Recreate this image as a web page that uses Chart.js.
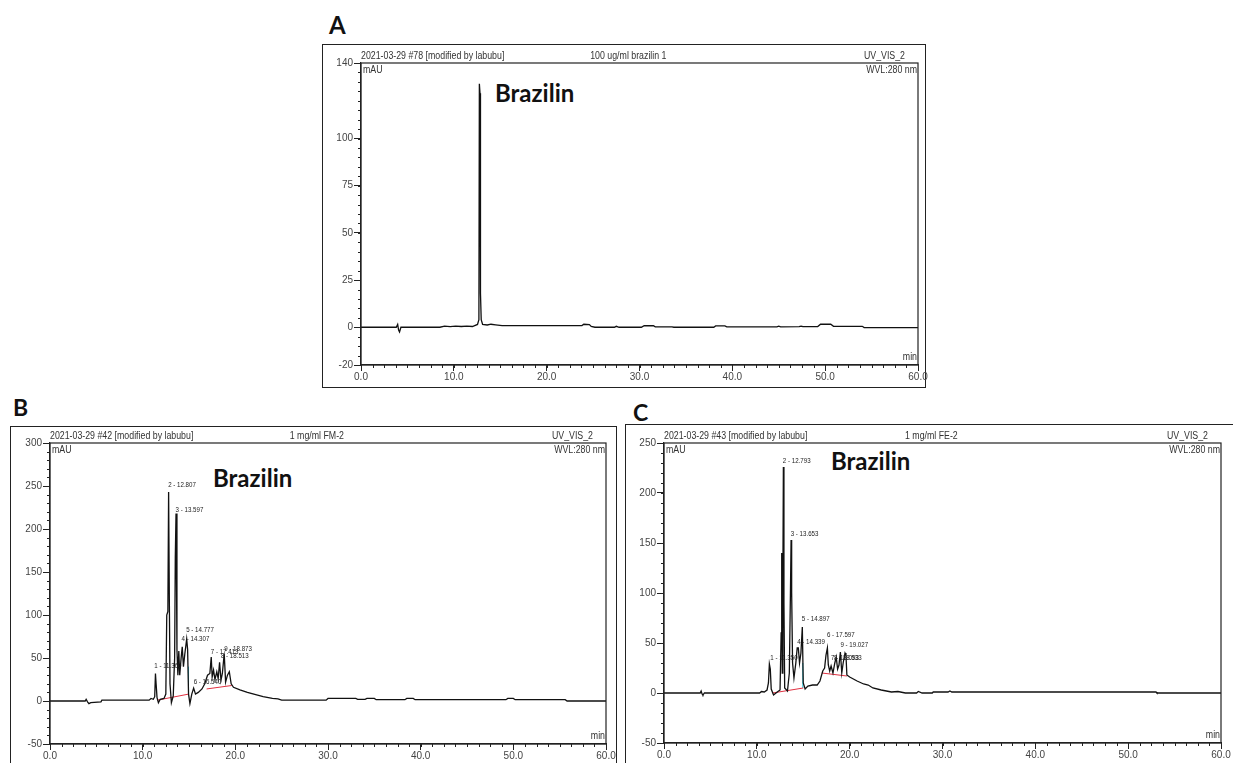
<!DOCTYPE html>
<html lang="en">
<head>
    <meta charset="UTF-8" />
    <title>HPLC chromatograms - brazilin</title>
    <style>
        body { margin: 0; width: 1233px; height: 763px; overflow: hidden; background: #fff; position: relative; }
        .box { position: absolute; border: 1.5px solid #222; box-sizing: border-box; }
        .tag { position: absolute; font-family: Lato, "Open Sans", sans-serif; font-weight: 700; color: #111; line-height: 1; white-space: nowrap; }
        canvas { position: absolute; }
    </style>
</head>

<body>
    <!-- panel frames -->
    <div class="box" style="left:322px; top:44px; width:604px; height:344px;"></div>
    <div class="box" style="left:10px; top:426px; width:607px; height:360px;"></div>
    <div class="box" style="left:625px; top:424px; width:630px; height:360px;"></div>

    <!-- panel letters and annotations -->
    <div class="tag" style="left:329px; top:13px; font-size:24px;">A</div>
    <div class="tag" style="left:13px; top:396px; font-size:23px;">B</div>
    <div class="tag" style="left:633px; top:401px; font-size:23px;">C</div>
    <div class="tag" style="left:495px; top:81px; font-size:24px;">Brazilin</div>
    <div class="tag" style="left:213px; top:466px; font-size:24px;">Brazilin</div>
    <div class="tag" style="left:831px; top:449px; font-size:24px;">Brazilin</div>

    <canvas id="chartA" width="620" height="343" style="left:323px; top:45px;"></canvas>
    <canvas id="chartB" width="620" height="336" style="left:11px; top:427px;"></canvas>
    <canvas id="chartC" width="607" height="337" style="left:626px; top:426px;"></canvas>

    <script src="https://cdn.jsdelivr.net/npm/chart.js@4.4.1/dist/chart.umd.min.js"></script>
    <script>
        // ---- data (retention time in min, signal in mAU) ----
        const timeA = [0, 3.8, 3.95, 4.05, 4.15, 4.3, 8.5, 9.0, 9.6, 10.2,
            10.8, 11.4, 12.0, 12.55, 12.7, 12.75, 12.82, 12.87, 12.95, 13.1,
            13.6, 14.0, 14.5, 15.2, 23.8, 24.0, 24.6, 24.8, 25.2, 27.3,
            27.5, 27.8, 30.2, 30.5, 31.5, 31.7, 33.5, 33.7, 38.0, 38.2,
            39.2, 39.4, 44.8, 45.0, 45.2, 47.2, 47.4, 47.6, 49.2, 49.5,
            50.6, 50.9, 54.0, 54.2, 60];
        const mauA = [0, 0, 1.5, -1.5, -2.5, 0, 0, 0.6, 0.3, 0.6,
            0.4, 0.6, 0.4, 1.5, 4, 129, 124, 18, 4, 1.5,
            1.2, 1.6, 1.3, 0.9, 0.9, 1.6, 1.4, 0.4, 0, 0,
            0.5, 0, 0, 0.8, 0.8, 0.2, 0.2, 0, 0, 0.7,
            0.7, 0.2, 0.2, 0.6, 0.2, 0.3, 0.6, 0.3, 0.4, 1.6,
            1.6, 0.5, 0.5, -0.2, -0.2];

        const timeB = [0, 3.8, 3.9, 4.05, 4.2, 4.4, 5.5, 5.6, 10.7, 10.9,
            11.15, 11.3, 11.38, 11.45, 11.55, 11.7, 11.9, 12.3, 12.5, 12.6,
            12.72, 12.8, 12.88, 12.95, 13.1, 13.3, 13.45, 13.52, 13.6, 13.7,
            13.8, 13.9, 14.0, 14.15, 14.27, 14.4, 14.55, 14.75, 14.85, 14.95,
            15.1, 15.3, 15.5, 15.7, 16.0, 16.4, 16.7, 17.0, 17.25, 17.4,
            17.5, 17.65, 17.8, 18.0, 18.15, 18.3, 18.45, 18.6, 18.8, 18.95,
            19.15, 19.35, 19.55, 19.8, 20.5, 21.3, 22.0, 23.0, 24.0, 24.6,
            25.0, 29.8, 30.0, 33.0, 33.2, 34.0, 34.2, 35.0, 35.2, 38.3,
            38.5, 39.2, 39.4, 49.2, 49.4, 50.0, 50.2, 55.6, 55.8, 60];
        const mauB = [0, 0, 2, -1, -3, -2, -1, 1, 1, 3,
            2, 5, 32, 20, 4, -2, 2, 3, 8, 100,
            104, 243, 115, 20, -2, 6, 50, 166, 218, 60,
            30, 58, 30, 50, 63, 40, 55, 72, 60, 8,
            -3, 8, 15, 8, 10, 14, 20, 30, 32, 51,
            28, 36, 25, 34, 26, 45, 24, 32, 55, 22,
            30, 34, 20, 16, 13, 10, 8, 5, 3, 2.5,
            1, 1, 3, 3, 2, 2, 3, 3, 1.5, 1.5,
            3, 3, 1.5, 1.5, 3, 3, 1.5, 1.5, 0, 0];

        const timeC = [0, 3.9, 4.0, 4.1, 4.2, 4.35, 10.3, 10.5, 10.8, 11.1,
            11.25, 11.35, 11.45, 11.55, 11.8, 12.2, 12.5, 12.62, 12.68, 12.74,
            12.8, 12.86, 12.92, 13.0, 13.3, 13.5, 13.62, 13.69, 13.75, 13.85,
            14.0, 14.2, 14.35, 14.47, 14.6, 14.75, 14.9, 15.0, 15.2, 15.5,
            16.0, 16.5, 16.8, 17.1, 17.3, 17.45, 17.6, 17.7, 17.85, 18.0,
            18.2, 18.4, 18.55, 18.7, 18.85, 19.0, 19.15, 19.3, 19.5, 19.6,
            19.7, 20.0, 20.8, 21.5, 22.0, 22.5, 23.4, 24.5, 25.2, 26.0,
            27.2, 27.4, 27.8, 28.9, 29.0, 30.6, 30.8, 31.0, 53.0, 53.1, 60];
        const mauC = [0, 0, 2, -1, -2, 0, 0, 1.5, 1, 3,
            10, 29, 24, 4, -2, 1, 3, 60, 140, 20,
            100, 226, 90, 5, 2, 20, 100, 153, 101, 30,
            15, 30, 45, 45, 30, 40, 66, 10, 4, 7,
            8, 8, 12, 22, 25, 38, 45, 28, 22, 27,
            20, 30, 36, 24, 28, 41, 20, 30, 40, 38,
            18, 16, 12, 9, 8, 5, 3, 1, 1.5, 0,
            0, 1.5, 0, 0, 1, 1, 2, 1, 1, 0, 0];

        // integration baselines [t1, y1, t2, y2]
        const baseB = [[11.6, 1, 14.95, 8], [16.9, 14, 19.6, 18]];
        const baseC = [[11.7, 0, 15.0, 5], [17.0, 20, 19.7, 17]];
        const fillB = [14.95, 8, 14.95, 40];
        const fillC = [14.95, 5, 14.95, 30];

        // peak labels [text, t, mAU]
        const peaksB = [['1 - 11.360', 11.25, 38], ['2 - 12.807', 12.75, 249], ['3 - 13.597', 13.55, 220],
            ['4 - 14.307', 14.2, 70], ['5 - 14.777', 14.7, 80], ['6 - 16.540', 15.5, 20],
            ['7 - 17.413', 17.35, 55], ['8 - 18.513', 18.45, 50], ['9 - 18.873', 18.8, 58]];
        const peaksC = [['1 - 11.350', 11.45, 33], ['2 - 12.793', 12.8, 230], ['3 - 13.653', 13.65, 157],
            ['4 - 14.339', 14.35, 49], ['5 - 14.897', 14.85, 72], ['6 - 17.597', 17.55, 56],
            ['7 - 18.093', 18.0, 33], ['8 - 18.533', 18.3, 33], ['9 - 19.027', 19.0, 46]];

        // labelled ticks and minor tick spacing
        const xLabels = [0, 10, 20, 30, 40, 50, 60];
        const xMinor = 1.25;
        const yLabelsA = [-20, 0, 25, 50, 75, 100, 140];
        const yLabelsB = [-50, 0, 50, 100, 150, 200, 250, 300];
        const yLabelsC = [-50, 0, 50, 100, 150, 200, 250];

        const FONT = '"Liberation Sans", Arial, sans-serif';

        function pairs(t, v) {
            return t.map((x, i) => ({ x: x, y: v[i] }));
        }

        // frame, minor ticks, header texts and peak labels
        const panelText = {
            id: 'panelText',
            afterDraw(chart, args, opts) {
                const { ctx, chartArea: a, scales } = chart;
                const squeeze = (txt, x, y) => ctx.fillText(txt, x, y, ctx.measureText(txt).width * 0.88);
                ctx.save();
                ctx.strokeStyle = '#222';
                ctx.lineWidth = 1.2;
                ctx.strokeRect(a.left, a.top, a.right - a.left, a.bottom - a.top);

                // minor ticks
                ctx.lineWidth = 1;
                ctx.beginPath();
                for (let v = 0; v <= 60; v += xMinor) {
                    const px = Math.round(scales.x.getPixelForValue(v)) + 0.5;
                    ctx.moveTo(px, a.bottom);
                    ctx.lineTo(px, a.bottom + 3);
                }
                for (let v = scales.y.min; v <= scales.y.max; v += opts.yMinor) {
                    const py = Math.round(scales.y.getPixelForValue(v)) + 0.5;
                    ctx.moveTo(a.left - 3, py);
                    ctx.lineTo(a.left, py);
                }
                ctx.stroke();

                ctx.fillStyle = '#333';
                ctx.font = '10px ' + FONT;
                ctx.textAlign = 'left';
                squeeze(opts.run, a.left, a.top - 4);
                squeeze('mAU', a.left + 2, a.top + 10);
                ctx.textAlign = 'center';
                squeeze(opts.sample, a.left + (a.right - a.left) * 0.48, a.top - 4);
                ctx.textAlign = 'right';
                squeeze('UV_VIS_2', a.right - 13, a.top - 4);
                squeeze('WVL:280 nm', a.right - 1, a.top + 10);
                squeeze('min', a.right - 1, a.bottom - 5);

                ctx.fillStyle = '#222';
                ctx.font = '7px ' + FONT;
                ctx.textAlign = 'left';
                (opts.peaks || []).forEach(p => {
                    squeeze(p[0], scales.x.getPixelForValue(p[1]), scales.y.getPixelForValue(p[2]));
                });
                ctx.restore();
            }
        };

        function segment(s, color) {
            return {
                data: [{ x: s[0], y: s[1] }, { x: s[2], y: s[3] }],
                showLine: true, borderColor: color, borderWidth: 1, pointRadius: 0
            };
        }

        function makeChart(id, times, values, y, info, extras, pad, yW, xH) {
            const ctx = document.getElementById(id).getContext('2d');
            return new Chart(ctx, {
                type: 'scatter',
                data: {
                    datasets: [{
                        data: pairs(times, values),
                        showLine: true,
                        borderColor: '#111',
                        borderWidth: 1.3,
                        pointRadius: 0,
                        tension: 0
                    }].concat(extras)
                },
                options: {
                    responsive: false,
                    animation: false,
                    layout: { padding: pad },
                    plugins: {
                        legend: { display: false },
                        tooltip: { enabled: false },
                        panelText: info
                    },
                    scales: {
                        x: {
                            type: 'linear', min: 0, max: 60,
                            afterBuildTicks: s => { s.ticks = xLabels.map(v => ({ value: v })); },
                            afterFit: s => { s.height = xH; },
                            ticks: {
                                autoSkip: false, maxRotation: 0, padding: 0, color: '#444',
                                font: { size: 10, family: FONT },
                                callback: v => v.toFixed(1)
                            },
                            grid: { drawOnChartArea: false, tickLength: 6, color: '#222' },
                            border: { color: '#222', width: 1.2 }
                        },
                        y: {
                            type: 'linear', min: y.min, max: y.max,
                            afterBuildTicks: s => { s.ticks = y.labels.map(v => ({ value: v })); },
                            afterFit: s => { s.width = yW; },
                            ticks: {
                                autoSkip: false, padding: 1, color: '#444',
                                font: { size: 10, family: FONT },
                                callback: v => String(v)
                            },
                            grid: { drawOnChartArea: false, tickLength: 7, color: '#222' },
                            border: { color: '#222', width: 1.2 }
                        }
                    }
                },
                plugins: [panelText]
            });
        }

        makeChart('chartA', timeA, mauA,
            { min: -20, max: 140, labels: yLabelsA },
            { run: '2021-03-29 #78 [modified by labubu]', sample: '100 ug/ml brazilin 1', peaks: [], yMinor: 5 },
            [],
            { top: 18, right: 25, bottom: 2, left: 0 }, 38, 21);

        makeChart('chartB', timeB, mauB,
            { min: -50, max: 300, labels: yLabelsB },
            { run: '2021-03-29 #42 [modified by labubu]', sample: '1 mg/ml FM-2', peaks: peaksB, yMinor: 10 },
            baseB.map(s => segment(s, '#e03040')).concat([segment(fillB, '#30c8dc')]),
            { top: 16, right: 25, bottom: 0, left: 0 }, 39, 19);

        makeChart('chartC', timeC, mauC,
            { min: -50, max: 250, labels: yLabelsC },
            { run: '2021-03-29 #43 [modified by labubu]', sample: '1 mg/ml FE-2', peaks: peaksC, yMinor: 10 },
            baseC.map(s => segment(s, '#e03040')).concat([segment(fillC, '#30c8dc')]),
            { top: 17, right: 12, bottom: 0, left: 0 }, 38, 20);
    </script>
</body>

</html>
